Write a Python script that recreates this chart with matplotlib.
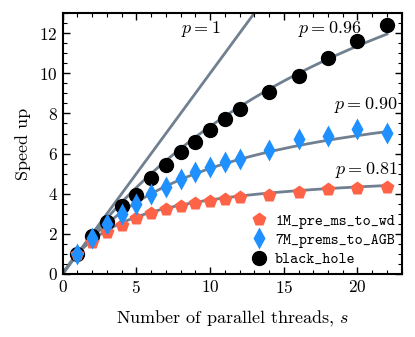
import numpy as np
import matplotlib
matplotlib.use('Agg')
import matplotlib.pyplot as plt

plt.rcParams['font.family'] = 'serif'
plt.rcParams['font.serif'] = ['cmr10']
plt.rcParams['mathtext.fontset'] = 'cm'
plt.rcParams['axes.formatter.use_mathtext'] = True

threads = [1, 2, 3, 4, 5, 6, 7, 8, 9, 10, 11, 12, 14, 16, 18, 20, 22]
speed_wd = [1.0, 1.6, 2.1, 2.45, 2.8, 3.03, 3.23, 3.37, 3.53, 3.65, 3.73, 3.82, 3.92, 4.08, 4.23, 4.3, 4.32]
speed_agb = [1.0, 1.78, 2.48, 3.0, 3.5, 3.98, 4.33, 4.75, 5.07, 5.33, 5.58, 5.75, 6.17, 6.73, 6.9, 7.23, 7.03]
speed_bh = [1.0, 1.87, 2.57, 3.4, 3.93, 4.78, 5.45, 6.07, 6.6, 7.2, 7.7, 8.2, 9.08, 9.87, 10.78, 11.62, 12.4]
labels = ['1M_pre_ms_to_wd', '7M_prems_to_AGB', 'black_hole']
p_values = [1.0, 0.96, 0.90, 0.81]
p_labels = ['$p = 1$', '$p = 0.96$', '$p = 0.90$', '$p = 0.81$']
p_label_pos = [(9.35, 12.2, 'center'), (18.1, 12.2, 'center'),
               (22.75, 8.4, 'right'), (22.75, 5.2, 'right')]

def amdahl(s, p):
    return 1.0 / ((1.0 - p) + p / s)

fig = plt.figure(figsize=(4.15, 3.37), dpi=100)
ax = fig.add_axes([0.151, 0.187, 0.817, 0.774])

s = np.linspace(1e-3, 22, 400)
for p in p_values:
    ax.plot(s, amdahl(s, p), color='slategray', lw=2, zorder=1)
for lab, (x, y, ha) in zip(p_labels, p_label_pos):
    ax.text(x, y, lab, ha=ha, va='center', fontsize=13)

ax.plot(threads, speed_wd, 'p', color='#ff6347', ms=10.5, mec='none', label=labels[0], zorder=3)
ax.plot(threads, speed_agb, 'd', color='#1e90ff', ms=11, mec='none', label=labels[1], zorder=3)
ax.plot(threads, speed_bh, 'o', color='black', ms=10, label=labels[2], zorder=2)

ax.set_xlim(0, 23)
ax.set_ylim(0, 13)
ax.set_xticks([0, 5, 10, 15, 20])
ax.set_yticks([0, 2, 4, 6, 8, 10, 12])
ax.set_xticks(np.arange(0, 23.1, 1), minor=True)
ax.set_yticks(np.arange(0, 13.1, 0.5), minor=True)
ax.tick_params(which='both', direction='in', top=True, right=True, labelsize=12.5)
ax.tick_params(which='major', length=5, width=1)
ax.tick_params(which='minor', length=3, width=0.8)
for sp in ax.spines.values():
    sp.set_linewidth(1.5)

ax.set_xlabel('Number of parallel threads, $s$', fontsize=13, labelpad=9)
ax.set_ylabel('Speed up', fontsize=13, labelpad=6)

ax.legend(loc='lower right', frameon=False, prop={'family': 'cmtt10', 'size': 11},
          handletextpad=0.3, borderaxespad=0.05, labelspacing=0.3, handlelength=1.5)

fig.savefig('out.png', dpi=100)
